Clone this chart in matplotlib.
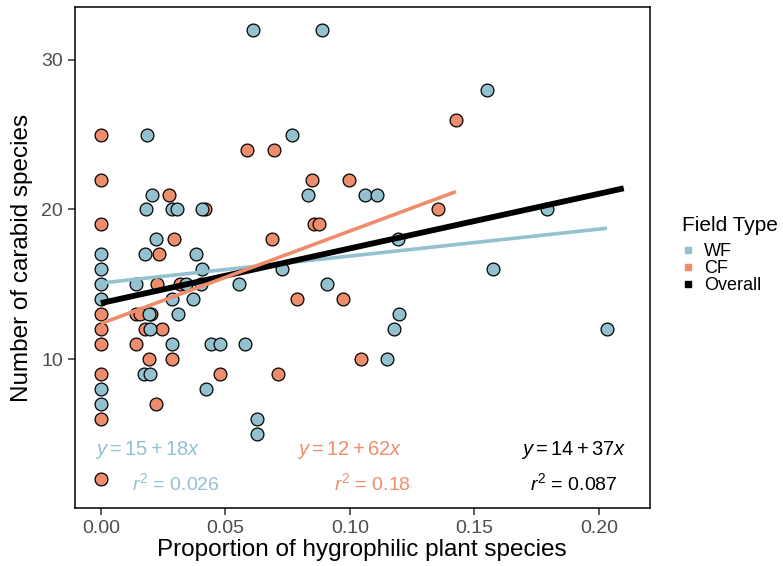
import numpy as np
import matplotlib
matplotlib.use("Agg")
import matplotlib.pyplot as plt
from matplotlib.lines import Line2D

plt.rcParams["font.family"] = ["Liberation Sans", "DejaVu Sans"]
plt.rcParams["mathtext.fontset"] = "custom"
plt.rcParams["mathtext.rm"] = "Liberation Sans"
plt.rcParams["mathtext.it"] = "Liberation Sans:italic"

# WF (wet fields)
wf_x = [0, 0, 0, 0, 0, 0, 0.0143, 0.0172, 0.0179, 0.0183, 0.0187, 0.0194, 0.0196, 0.0196,
        0.0206, 0.022, 0.0286, 0.0286, 0.0286, 0.0306, 0.031, 0.034, 0.037, 0.0381, 0.0404,
        0.0407, 0.0407, 0.0424, 0.0444, 0.0477, 0.0554, 0.0577, 0.061, 0.0627, 0.0627,
        0.0728, 0.0768, 0.0832, 0.0887, 0.0907, 0.1062, 0.1109, 0.1149, 0.1176, 0.1194,
        0.1198, 0.155, 0.1576, 0.179, 0.2033]
wf_y = [17, 16, 15, 14, 8, 7, 15, 9, 17, 20, 25, 13, 12, 9,
        21, 18, 20, 14, 11, 20, 13, 15, 14, 17, 15,
        20, 16, 8, 11, 11, 15, 11, 32, 6, 5,
        16, 25, 21, 32, 15, 21, 21, 10, 12, 18,
        13, 28, 16, 20, 12]

# CF (crop fields)
cf_x = [0, 0, 0, 0, 0, 0, 0, 0, 0, 0.0143, 0.0156, 0.0143, 0.0179, 0.0192, 0.0203, 0.022,
        0.0226, 0.0235, 0.0246, 0.0273, 0.0286, 0.0294, 0.0317, 0.042, 0.0477, 0.0588,
        0.0688, 0.0697, 0.0713, 0.0788, 0.0847, 0.0855, 0.0878, 0.0971, 0.0998, 0.1045,
        0.1355, 0.1426]
cf_y = [25, 22, 19, 13, 12, 11, 9, 6, 2, 13, 13, 11, 12, 10, 13, 7,
        15, 17, 12, 21, 10, 18, 15, 20, 9, 24,
        18, 24, 9, 14, 22, 19, 19, 14, 22, 10,
        20, 26]

# fitted lines: intercept, slope, x range
wf_fit = [15.09, 18.0]
cf_fit = [12.38, 61.8]
all_fit = [13.75, 36.5]
all_x_range = [0.0, 0.21]

wf_label = [r"$y = 15 + 18x$", r"$r^2$ = 0.026"]
cf_label = [r"$y = 12 + 62x$", r"$r^2$ = 0.18"]
all_label = [r"$y = 14 + 37x$", r"$r^2$ = 0.087"]

blue = "#93c1cf"
orange = "#ee8d6c"

fig = plt.figure(figsize=(7.83, 5.66), dpi=100)
ax = fig.add_axes([0.0954, 0.1025, 0.7346, 0.8846])

ax.scatter(cf_x, cf_y, s=85, color=orange, edgecolor="black", linewidth=0.9, zorder=2)
ax.scatter(wf_x, wf_y, s=85, color=blue, edgecolor="black", linewidth=0.9, zorder=2)


def fit_line(fit, x0, x1):
    xs = np.array([x0, x1])
    return xs, fit[0] + fit[1] * xs


xs, ys = fit_line(wf_fit, min(wf_x), max(wf_x))
ax.plot(xs, ys, color=blue, linewidth=2.6, solid_capstyle="butt", zorder=3)
xs, ys = fit_line(all_fit, *all_x_range)
ax.plot(xs, ys, color="black", linewidth=4.2, solid_capstyle="butt", zorder=4)
xs, ys = fit_line(cf_fit, min(cf_x), max(cf_x))
ax.plot(xs, ys, color=orange, linewidth=2.6, solid_capstyle="butt", zorder=5)

for lab, col, (xe, xr) in [(wf_label, blue, (0.019, 0.030)),
                           (cf_label, orange, (0.100, 0.109)),
                           (all_label, "black", (0.190, 0.190))]:
    ax.text(xe, 3.95, lab[0], color=col, fontsize=14.5, ha="center", va="center")
    ax.text(xr, 1.75, lab[1], color=col, fontsize=14, ha="center", va="center")

ax.set_xlim(-0.0105, 0.2205)
ax.set_ylim(0.07, 33.5)
ax.set_xticks([0, 0.05, 0.10, 0.15, 0.20])
ax.set_xticklabels(["0.00", "0.05", "0.10", "0.15", "0.20"])
ax.set_yticks([10, 20, 30])
ax.tick_params(colors="#333333", labelcolor="#4d4d4d", labelsize=14, length=5, width=1.1)
for sp in ax.spines.values():
    sp.set_linewidth(1.1)
ax.set_xlabel("Proportion of hygrophilic plant species", fontsize=17.5, labelpad=1.5)
ax.set_ylabel("Number of carabid species", fontsize=17.5, labelpad=6)

handles = [Line2D([], [], marker="s", linestyle="", markersize=5, color=c)
           for c in (blue, orange, "black")]
leg = fig.legend(handles, ["WF", "CF", "Overall"], title="Field Type",
                 loc="upper left", bbox_to_anchor=(0.862, 0.631), frameon=False,
                 fontsize=13, title_fontsize=15, handlelength=0.6,
                 handletextpad=0.6, labelspacing=0.0, borderaxespad=0)
leg._legend_box.align = "left"
leg._legend_box.sep = 6

fig.savefig("out.png", dpi=100)
